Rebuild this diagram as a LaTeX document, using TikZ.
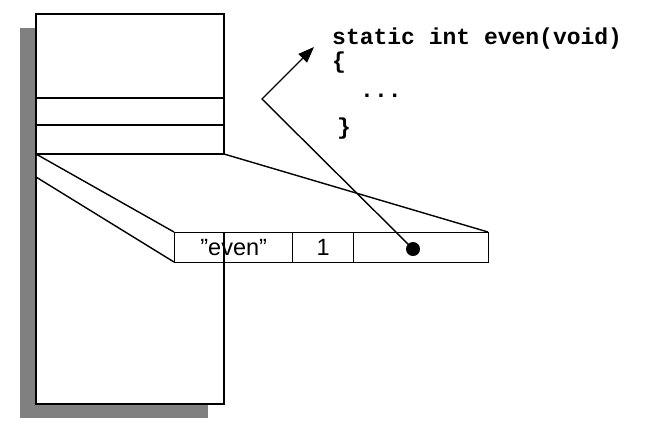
\documentclass[tikz,border=0pt]{standalone}
\usepackage{fontspec}
\setmainfont{Liberation Sans}
\newfontfamily\codefont{Liberation Mono}
\usetikzlibrary{arrows.meta}
\begin{document}
\begin{tikzpicture}[x=1pt,y=-1pt,
  thinline/.style={line width=1.4pt},
  thickline/.style={line width=1.8pt},
  cell/.style={draw,line width=1.4pt,minimum height=30pt,inner sep=0pt,anchor=north west,font=\fontsize{23.5}{23.5}\selectfont},
  code/.style={anchor=base west,inner sep=0pt,font=\codefont\bfseries\fontsize{23}{23}\selectfont}]
\useasboundingbox (0,0) rectangle (648,424);
% shadow and stack
\fill[black!50] (20,28) rectangle (208,418);
\draw[thickline,fill=white] (36,14) rectangle (224,404);
\draw[thinline] (36,98) -- (224,98) (36,125) -- (224,125);
\draw[thickline] (36,154) -- (224,154);
% fan
\fill[white] (36.9,155) -- (224,155) -- (488,232) -- (174,232) -- (174,262) -- (36.9,177) -- cycle;
\draw[thinline] (36,154) -- (174,232) (36,177) -- (174,262) (224,154) -- (488,232);
% table
\node[cell,minimum width=118pt] (c1) at (174,232) {\char"22 even\char"22};
\node[cell,minimum width=61pt] (c2) at (292,232) {1};
\node[cell,minimum width=135pt] (c3) at (353,232) {};
\node[circle,fill=black,inner sep=0pt,minimum size=14pt] (dot) at (413,249) {};
% code
\node[code] (l1) at (332,44) {static int even(void)};
\node[code] (l2) at (332,68) {\{};
\node[code] (l3) at (360,97) {...};
\node[code] (l4) at (337,134) {\}};
% arrow
\coordinate (bend) at (262,99);
\coordinate (tip) at (314,47);
\draw[thinline,-{Triangle[length=16pt,width=12pt]}] (dot.center) -- (bend) -- (tip);
\end{tikzpicture}
\end{document}
